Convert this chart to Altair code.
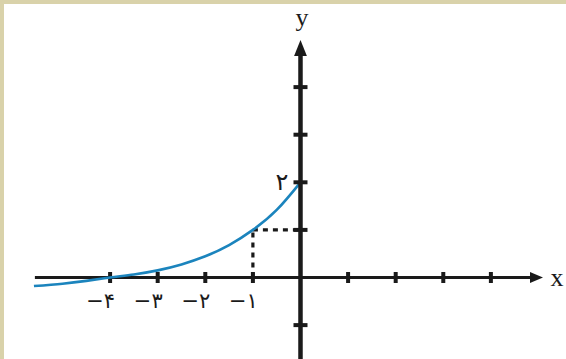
import altair as alt
import pandas as pd

# Plot geometry (data units) -------------------------------------------------
X_DOMAIN = [-6.313, 5.578]
Y_DOMAIN = [-1.712, 5.830]

# Curve samples
curve_x = [-5.6, -5.0, -4.5, -4.0, -3.5, -3.0, -2.5, -2.0, -1.5, -1.0, -0.5, 0.0]
curve_y = [-0.18, -0.13, -0.07, 0.0, 0.065, 0.15, 0.275, 0.445, 0.68, 1.0, 1.42, 2.0]

# Axis ticks and labels
xtick_vals = [-4, -3, -2, -1, 1, 2, 3, 4]
ytick_vals = [-1, 1, 2, 3, 4]
xlabel_vals = [-4, -3, -2, -1]
xlabel_text = ["−۴", "−۳", "−۲", "−۱"]
ylabel_vals = [2]
ylabel_text = ["۲"]

# Axis extents
x_axis_from, x_axis_to, x_arrow = -5.58, 4.85, 4.958
y_axis_from, y_axis_to, y_arrow = -1.8, 4.7, 4.82

# Marked point with its dashed guides
px, py = -1.0, 1.0

INK = "#1a1a1a"
BLUE = "#1b84bd"


def X(field="x"):
    return alt.X(f"{field}:Q", scale=alt.Scale(domain=X_DOMAIN, nice=False, zero=False), axis=None)


def Y(field="y"):
    return alt.Y(f"{field}:Q", scale=alt.Scale(domain=Y_DOMAIN, nice=False, zero=False), axis=None)


frame_top = alt.Chart(pd.DataFrame({"a": [0]})).mark_rect(color="#d9d2aa").encode(
    x=alt.value(0), x2=alt.value(566), y=alt.value(0), y2=alt.value(4)
)
frame_left = alt.Chart(pd.DataFrame({"a": [0]})).mark_rect(color="#d9d2aa").encode(
    x=alt.value(0), x2=alt.value(4), y=alt.value(0), y2=alt.value(359)
)

x_axis = alt.Chart(pd.DataFrame({"x": [x_axis_from], "x2": [x_axis_to], "y": [0]})).mark_rule(
    color=INK, strokeWidth=3
).encode(x=X(), x2="x2:Q", y=Y())

y_axis = alt.Chart(pd.DataFrame({"x": [0], "y": [y_axis_from], "y2": [y_axis_to]})).mark_rule(
    color=INK, strokeWidth=4.5
).encode(x=X(), y=Y(), y2="y2:Q")

x_head = alt.Chart(pd.DataFrame({"x": [x_arrow], "y": [0]})).mark_point(
    shape="M1,0L-1,0.85L-1,-0.85Z", filled=True, opacity=1, color=INK, size=170
).encode(x=X(), y=Y())

y_head = alt.Chart(pd.DataFrame({"x": [0], "y": [y_arrow]})).mark_point(
    shape="M0,-1L0.8,1L-0.8,1Z", filled=True, opacity=1, color=INK, size=256
).encode(x=X(), y=Y())

x_ticks = alt.Chart(pd.DataFrame({"x": xtick_vals, "y": [0] * len(xtick_vals)})).mark_tick(
    orient="vertical", size=11, thickness=4, color=INK, opacity=1
).encode(x=X(), y=Y())

y_ticks = alt.Chart(pd.DataFrame({"x": [0] * len(ytick_vals), "y": ytick_vals})).mark_tick(
    orient="horizontal", size=14, thickness=4, color=INK, opacity=1
).encode(x=X(), y=Y())

guides = pd.DataFrame({"x": [px, px], "y": [0, py], "x2": [px, 0], "y2": [py, py]})
dashed = alt.Chart(guides).mark_rule(color=INK, strokeWidth=3.2, strokeDash=[5, 5]).encode(
    x=X(), y=Y(), x2="x2:Q", y2="y2:Q"
)

curve = alt.Chart(pd.DataFrame({"x": curve_x, "y": curve_y})).mark_line(
    color=BLUE, strokeWidth=2.6, interpolate="natural"
).encode(x=X(), y=Y())

x_labels = alt.Chart(
    pd.DataFrame({"x": xlabel_vals, "y": [0] * len(xlabel_vals), "t": xlabel_text})
).mark_text(
    font="DejaVu Sans", fontSize=21, color=INK, align="right", baseline="middle", dx=5, dy=24
).encode(x=X(), y=Y(), text="t:N")

y_labels = alt.Chart(
    pd.DataFrame({"x": [0] * len(ylabel_vals), "y": ylabel_vals, "t": ylabel_text})
).mark_text(
    font="DejaVu Sans", fontSize=24, color=INK, align="right", baseline="middle", dx=-12, dy=1
).encode(x=X(), y=Y(), text="t:N")

axis_names = alt.Chart(
    pd.DataFrame({"x": [0.03, 5.39], "y": [5.45, 0.0], "t": ["y", "x"]})
).mark_text(
    font="Liberation Serif", fontSize=26, color=INK, align="center", baseline="middle"
).encode(x=X(), y=Y(), text="t:N")

chart = alt.layer(
    frame_top, frame_left,
    x_axis, x_ticks, x_head,
    dashed, curve,
    y_axis, y_ticks, y_head,
    x_labels, y_labels, axis_names,
).properties(
    width=566, height=359, padding=0, autosize=alt.AutoSizeParams(type="none"), background="white"
).configure_view(stroke=None)

chart.save("out.html", embed_options={"renderer": "svg", "actions": False})
